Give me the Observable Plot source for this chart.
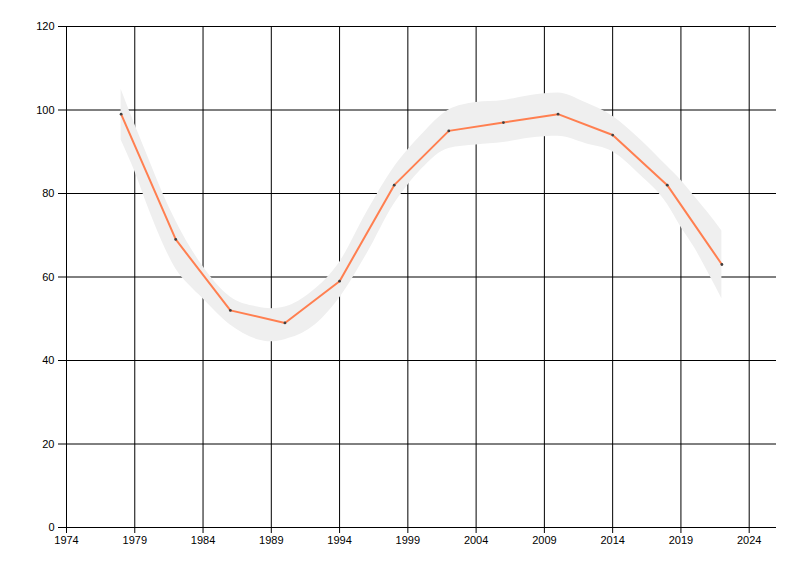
<!DOCTYPE html>
<html>
<head>
<meta charset="utf-8">
<script src="https://cdn.jsdelivr.net/npm/d3@7"></script>
<script src="https://cdn.jsdelivr.net/npm/@observablehq/plot@0.6"></script>
<style>
  html, body { margin: 0; padding: 0; background: #fff; }
  #chart svg { display: block; }
</style>
</head>
<body>
<div id="chart"></div>
<script>
const years = [1978, 1982, 1986, 1990, 1994, 1998, 2002, 2006, 2010, 2014, 2018, 2022];
const values = [99, 69, 52, 49, 59, 82, 95, 97, 99, 94, 82, 63];

const bandYears = [1978, 1979, 1980, 1981, 1982, 1983, 1984, 1986, 1988, 1989, 1990, 1992, 1994, 1996, 1998, 1999, 2000, 2002, 2004, 2006, 2008, 2010, 2012, 2014, 2016, 2018, 2019, 2020, 2021, 2022];
const bandUpper = [105.0, 96.6, 88.5, 80.5, 73.5, 67.5, 62.5, 55.2, 52.8, 52.4, 52.8, 56.5, 63.5, 75.5, 86.3, 90.4, 94.0, 100.0, 101.8, 102.3, 103.5, 104.1, 101.8, 98.5, 93.0, 86.5, 83.2, 79.3, 75.3, 71.0];
const bandLower = [92.8, 85.3, 76.5, 68.5, 62.0, 58.0, 54.8, 48.5, 45.0, 44.5, 45.0, 48.0, 55.0, 65.5, 77.5, 82.0, 85.8, 90.8, 91.6, 92.2, 93.3, 93.7, 92.0, 90.0, 84.5, 77.5, 72.0, 67.0, 61.0, 54.8];

const xTicks = [1974, 1979, 1984, 1989, 1994, 1999, 2004, 2009, 2014, 2019, 2024];
const yTicks = [0, 20, 40, 60, 80, 100, 120];

const points = years.map((y, i) => ({year: y, value: values[i]}));
const band = bandYears.map((y, i) => ({year: y, hi: bandUpper[i], lo: bandLower[i]}));

const chart = Plot.plot({
  width: 800,
  height: 576,
  marginLeft: 66,
  marginRight: 24,
  marginTop: 26,
  marginBottom: 49,
  style: {fontFamily: "'Liberation Sans', Arial, sans-serif", fontSize: "11px", color: "#000", background: "#fff"},
  x: {domain: [1974, 2026]},
  y: {domain: [0, 120]},
  marks: [
    Plot.ruleX(xTicks, {y1: 0, y2: 120, stroke: "#000"}),
    Plot.ruleY(yTicks, {x1: 1974, x2: 2026, stroke: "#000"}),
    Plot.areaY(band, {x: "year", y1: "lo", y2: "hi", fill: "#efefef", fillOpacity: 1, curve: "monotone-x"}),
    Plot.line(points, {x: "year", y: "value", stroke: "#FF7F50", strokeWidth: 2}),
    Plot.dot(points, {x: "year", y: "value", r: 1.4, fill: "#404040", stroke: null}),
    Plot.axisX({ticks: xTicks, tickSize: 6, tickPadding: 3, tickFormat: d => String(d), label: null, fill: "#000"}),
    Plot.axisY({ticks: yTicks, tickSize: 8, tickPadding: 4, tickFormat: d => String(d), label: null, fill: "#000"})
  ]
});
document.getElementById("chart").appendChild(chart);
</script>
</body>
</html>
